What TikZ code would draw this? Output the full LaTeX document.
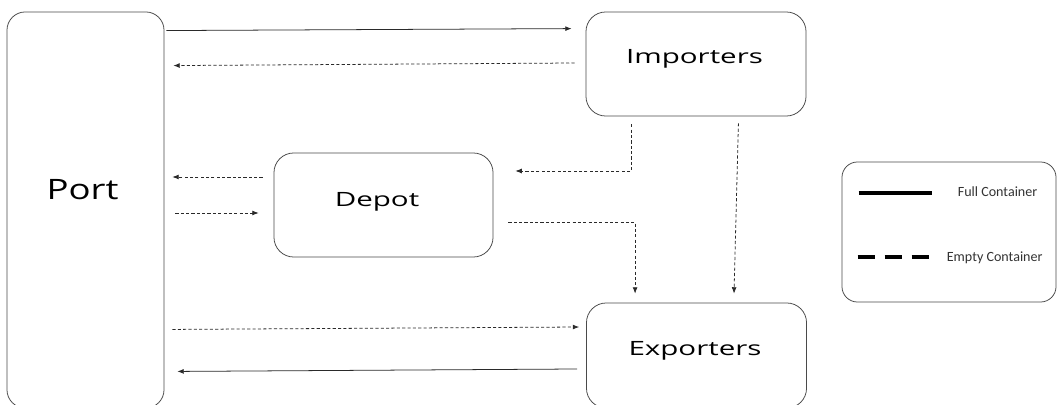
\documentclass[tikz,border=0pt]{standalone}
\usepackage{fontspec}
\usetikzlibrary{arrows.meta}
\newfontfamily\boxfont[FakeStretch=1.5]{Open Sans}
\newfontfamily\portfont[FakeStretch=1.3]{Open Sans}
\newfontfamily\legfont{Carlito}
\definecolor{edge}{HTML}{4A4A4A}
\definecolor{flow}{HTML}{2A2A2A}

\tikzstyle{block} = [rectangle, draw=edge, line width=0.55pt, rounded corners=14pt, inner sep=0pt, minimum width=5.5cm, minimum height=2.6cm]
\tikzstyle{lab} = [anchor=base, inner sep=0pt, font=\boxfont\fontsize{14}{16}\selectfont]
\tikzstyle{legtext} = [anchor=base west, inner sep=0pt, text=black!80, font=\legfont\fontsize{10}{12}\selectfont]
\tikzstyle{full} = [draw=flow, line width=0.55pt, -{Latex[length=4.5pt,width=3.5pt]}]
\tikzstyle{empty} = [full, dash pattern=on 2.2pt off 1.6pt]

\begin{document}
\begin{tikzpicture}[x=0.025cm, y=-0.025cm]
\useasboundingbox (0,0) rectangle (1058,405);
\clip (0,0) rectangle (1058,405);
\node [block, minimum width=3.925cm, minimum height=9.9cm, rounded corners=13pt] (Port) at (85.5,210) {};
\node [block] (Imp) at (696,64) {};
\node [block, minimum width=5.475cm] (Depot) at (383.5,205) {};
\node [block, minimum height=2.625cm] (Exp) at (696.5,355.5) {};
\node [block, minimum width=5.35cm, minimum height=3.5cm, rounded corners=11pt] (Leg) at (949,232) {};
\node [lab, font=\portfont\fontsize{20}{24}\selectfont] (Port_lab) at ([shift={(-3,-10)}]Port.center) {Port};
\node [lab] (Imp_lab) at ([shift={(-1.5,0)}]Imp.center) {Importers};
\node [lab] (Depot_lab) at ([shift={(-6.5,2)}]Depot.center) {Depot};
\node [lab] (Exp_lab) at ([shift={(-1.5,0.5)}]Exp.center) {Exporters};
% flows between port and importers / exporters
\draw [full] ([shift={(2,19)}]Port.north east) -- ([shift={(-14,17)}]Imp.north west);
\draw [empty] ([shift={(-11,-1)}]Imp.west) -- ([shift={(9,54)}]Port.north east);
\draw [empty] ([shift={(8,-79)}]Port.south east) -- ([shift={(-7,-28.5)}]Exp.west);
\draw [full] ([shift={(-9,13.5)}]Exp.west) -- ([shift={(13,-37)}]Port.south east);
% flows through the depot
\draw [empty] ([shift={(-11,-28)}]Depot.west) -- ([shift={(8,-33)}]Port.east);
\draw [empty] ([shift={(11,3)}]Port.east) -- ([shift={(-15,8)}]Depot.west);
\draw [empty] ([shift={(46,8)}]Imp.south west) |- ([shift={(22,-34)}]Depot.east);
\draw [empty] ([shift={(15,17)}]Depot.east) -| ([shift={(49,-9)}]Exp.north west);
\draw [empty] ([shift={(-68,7)}]Imp.south east) -- ([shift={(37.5,-9)}]Exp.north);
% legend
\draw [line width=2.8pt, draw=black] ([shift={(17,31)}]Leg.north west) -- ([shift={(90,31)}]Leg.north west);
\draw [line width=2.8pt, draw=black, dash pattern=on 0.425cm off 0.25cm] ([shift={(16,95)}]Leg.north west) -- ([shift={(89,95)}]Leg.north west);
\node [legtext] (Full_lab) at ([shift={(116,35)}]Leg.north west) {Full Container};
\node [legtext] (Empty_lab) at ([shift={(105,100)}]Leg.north west) {Empty Container};
\end{tikzpicture}
\end{document}
